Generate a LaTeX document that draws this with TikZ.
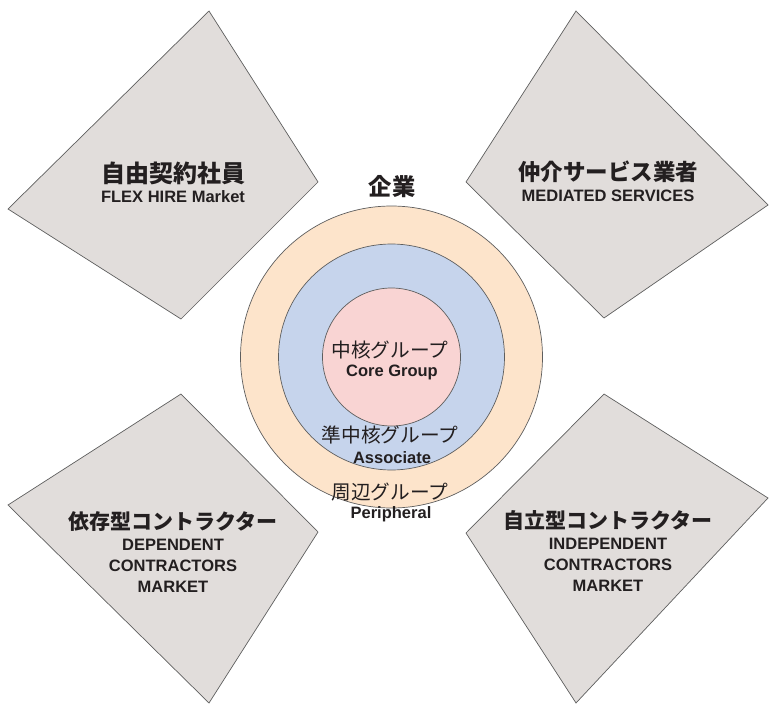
\documentclass[tikz,border=0pt]{standalone}
\usepackage{fontspec}
\setmainfont{Liberation Sans}
\newfontfamily\jp{Noto Sans CJK JP}
\definecolor{shapefill}{HTML}{E1DDDB}
\definecolor{edgegray}{HTML}{5E5E5E}
\definecolor{ringpeach}{HTML}{FDE4CB}
\definecolor{ringblue}{HTML}{C6D4EC}
\definecolor{ringpink}{HTML}{F9D4D3}
\definecolor{ink}{HTML}{231F20}
\tikzset{
  market/.style={draw=edgegray, fill=shapefill, line width=0.7pt, line join=miter},
  ring/.style={circle, draw=edgegray, line width=0.7pt, inner sep=0pt, outer sep=0pt},
  jpbold/.style={font=\jp\bfseries\fontsize{#1}{#1}\selectfont, text=ink, inner sep=0pt},
  jpreg/.style={font=\jp\fontsize{19.7}{20}\selectfont, text=ink, inner sep=0pt},
  entext/.style={font=\bfseries\fontsize{16.5}{21}\selectfont, text=ink, align=center, inner sep=0pt}
}
\begin{document}
\begin{tikzpicture}[x=1pt,y=-1pt]
\useasboundingbox (0,0) rectangle (769,704);
% four market shapes
\draw[market] (209,11) -- (318,182) -- (181,319) -- (8,209) -- cycle;
\draw[market] (576,11) -- (768,205) -- (604,318) -- (466,182) -- cycle;
\draw[market] (181,394) -- (318,532) -- (209,703) -- (8,505) -- cycle;
\draw[market] (604,394) -- (768,498) -- (576,703) -- (466,533) -- cycle;
% rings
\node[ring, fill=ringpeach, minimum size=302pt] (outer) at (391.5,357) {};
\node[ring, fill=ringblue, minimum size=226pt] (middle) at (391.5,357) {};
\node[ring, fill=ringpink, minimum size=138pt] (core) at (391.5,357) {};
% ring labels
\node[jpbold=23.3] (kigyo) at (392,187) {企業};
\node[jpreg] (corejp) at (390,350) {中核グループ};
\node[entext] (coreen) at (392,372) {Core Group};
\node[jpreg] (assocjp) at (390,435) {準中核グループ};
\node[entext] (assocen) at (392,458) {Associate};
\node[jpreg] (perijp) at (390,492) {周辺グループ};
\node[entext] (perien) at (391,514) {Peripheral};
% market labels
\node[jpbold=24] (flexjp) at (173,173) {自由契約社員};
\node[entext] (flexen) at (173,197) {FLEX HIRE Market};
\node[jpbold=22.5] (medjp) at (608,172) {仲介サービス業者};
\node[entext] (meden) at (608,196) {MEDIATED SERVICES};
\node[jpbold=21] (depjp) at (173,522) {依存型コントラクター};
\node[entext, anchor=north] (depen) at (173,539) {DEPENDENT\\CONTRACTORS\\MARKET};
\node[jpbold=21] (indjp) at (608,520) {自立型コントラクター};
\node[entext, anchor=north] (inden) at (608,537.5) {INDEPENDENT\\CONTRACTORS\\MARKET};
\end{tikzpicture}
\end{document}
